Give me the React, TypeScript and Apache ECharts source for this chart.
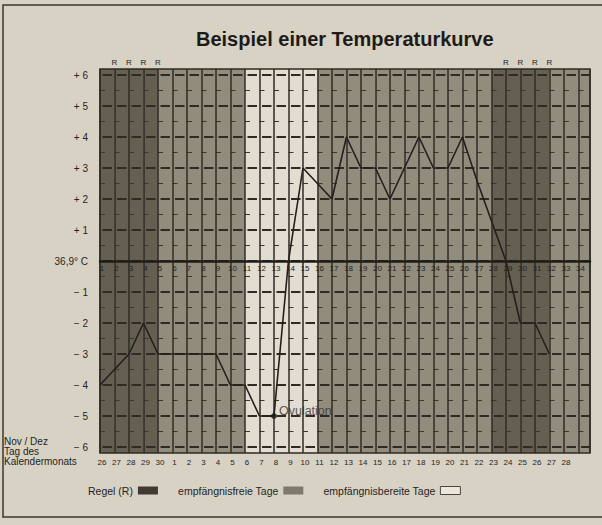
import React, { useEffect, useRef } from "react";
import * as echarts from "echarts";

// Zyklustage (cycle days) and temperature offsets (units of 0.05 °C relative to 36.9 °C)
const cycleDays = [
  1, 2, 3, 4, 5, 6, 7, 8, 9, 10, 11, 12, 13, 14, 15, 16, 17, 18, 19, 20, 21, 22, 23, 24,
  25, 26, 27, 28, 29, 30, 31, 32, 33, 34,
];
const temperatures: (number | null)[] = [
  -4, -3.5, -3, -2, -3, -3, -3, -3, -3, -4, -4, -5, -5, 0, 3, 2.5, 2, 4, 3, 3, 2, 3, 4, 3,
  3, 4, 2.6, 1.3, 0, -2, -2, -3, null, null,
];
const calendarDays = [
  "26", "27", "28", "29", "30", "1", "2", "3", "4", "5", "6", "7", "8", "9", "10", "11",
  "12", "13", "14", "15", "16", "17", "18", "19", "20", "21", "22", "23", "24", "25", "26",
  "27", "28",
];
const ovulationDay = 13;
const regelColumns = [1, 2, 3, 4, 28, 29, 30, 31];
const infertileColumns = [5, 6, 7, 8, 9, 10, 16, 17, 18, 19, 20, 21, 22, 23, 24, 25, 26, 27, 32, 33, 34];
const fertileColumns = [11, 12, 13, 14, 15];
const seriesNames = ["Regel (R)", "empfängnisfreie Tage", "empfängnisbereite Tage"];
const zeroLabel = "36,9° C";
const calendarCaption = ["Nov / Dez", "Tag des", "Kalendermonats"];
const title = "Beispiel einer Temperaturkurve";

export default function App() {
  const ref = useRef<HTMLDivElement>(null);
  useEffect(() => {
    const chart = echarts.init(ref.current!, null, { renderer: "svg" });
    const font = "Liberation Sans, Arial, sans-serif";
    const ink = "#25231e";
    const lineInk = "#2e2b25";
    const colors = ["#655f52", "#928c7d", "#e2ddd0"];
    const xMin = 1;
    const xMax = 34.8;
    const rLabelPositions = regelColumns.map((c) => c + 1);

    const band = (name: string, cols: number[], color: string) => ({
      type: "custom",
      name,
      xAxisIndex: 0,
      yAxisIndex: 0,
      z: -1,
      silent: true,
      itemStyle: { color },
      data: cols.map((c) => [c, 0]),
      encode: { x: 0, y: 1 },
      renderItem: (params: any, api: any) => {
        const c = api.value(0);
        const a = api.coord([c, 0]);
        const b = api.coord([c + 1, 0]);
        const cs = params.coordSys;
        const right = Math.min(b[0], cs.x + cs.width);
        return {
          type: "rect",
          shape: { x: a[0], y: cs.y, width: right - a[0], height: cs.height },
          style: { fill: color },
        };
      },
    });

    const lineData = cycleDays
      .map((d, i) => [d, temperatures[i]])
      .filter((p) => p[1] !== null);
    const ovIdx = cycleDays.indexOf(ovulationDay);

    chart.setOption({
      animation: false,
      backgroundColor: "transparent",
      textStyle: { fontFamily: font },
      title: {
        text: title,
        left: 191,
        top: 24,
        textStyle: { fontSize: 20, fontWeight: "bold", color: "#1d1b18", fontFamily: font },
      },
      legend: {
        left: 83,
        top: 480,
        align: "right",
        itemWidth: 20,
        itemHeight: 8,
        itemGap: 20,
        selectedMode: false,
        textStyle: { fontSize: 10.5, color: ink, fontFamily: font },
        data: [
          { name: seriesNames[0], icon: "rect", itemStyle: { color: "#3f3b33" } },
          { name: seriesNames[1], icon: "rect", itemStyle: { color: "#7f796b" } },
          {
            name: seriesNames[2],
            icon: "rect",
            itemStyle: { color: "#ebe7dc", borderColor: "#4a463d", borderWidth: 1 },
          },
        ],
      },
      grid: [
        {
          left: 100,
          right: 12,
          top: 69,
          bottom: 72,
          show: true,
          backgroundColor: "transparent",
          borderColor: lineInk,
          borderWidth: 1.5,
        },
        { left: 100, right: 12, top: 75, bottom: 78 },
        { left: 100, right: 12, top: 75, bottom: 264 },
      ],
      xAxis: [
        {
          type: "value",
          gridIndex: 0,
          min: xMin,
          max: xMax,
          interval: 1,
          position: "bottom",
          axisLine: { show: false, onZero: false },
          axisTick: { show: false },
          splitLine: { show: true, lineStyle: { color: lineInk, width: 1.5 } },
          axisLabel: {
            fontSize: 8,
            color: ink,
            margin: 5,
            padding: [0, 0, 0, 4],
            formatter: (v: number) => calendarDays[v - 1] ?? "",
          },
        },
        {
          type: "value",
          gridIndex: 1,
          min: xMin,
          max: xMax,
          interval: 1,
          show: false,
        },
        {
          type: "value",
          gridIndex: 0,
          min: xMin,
          max: xMax,
          interval: 1,
          position: "top",
          axisLine: { show: false },
          axisTick: { show: false },
          splitLine: { show: false },
          axisLabel: {
            fontSize: 8,
            color: ink,
            margin: 3,
            formatter: (v: number) => (rLabelPositions.includes(v) ? "R" : ""),
          },
        },
        {
          type: "value",
          gridIndex: 2,
          min: xMin,
          max: xMax,
          interval: 1,
          position: "bottom",
          axisLine: { show: true, onZero: false, lineStyle: { color: "#1e1c18", width: 2.5 } },
          axisTick: { show: false },
          splitLine: { show: false },
          axisLabel: {
            fontSize: 8,
            color: ink,
            margin: 3,
            padding: [0, 0, 0, 4],
            formatter: (v: number) => (cycleDays.includes(v) ? String(v) : ""),
          },
        },
      ],
      yAxis: [
        { type: "value", gridIndex: 0, min: -6.2, max: 6.2, show: false },
        {
          type: "value",
          gridIndex: 1,
          min: -6,
          max: 6,
          interval: 1,
          axisLine: { show: false },
          axisTick: { show: false },
          axisLabel: {
            fontSize: 10,
            color: ink,
            margin: 12,
            formatter: (v: number) =>
              v === 0 ? zeroLabel : v > 0 ? `+ ${v}` : `− ${Math.abs(v)}`,
          },
          splitLine: {
            show: true,
            lineStyle: { color: lineInk, width: 2, type: [9.5, 5], dashOffset: 12 },
          },
          minorTick: { show: false, splitNumber: 2 },
          minorSplitLine: {
            show: true,
            lineStyle: { color: "#3a372f", width: 1.1, type: [5, 9.5], dashOffset: 0 },
          },
        },
        { type: "value", gridIndex: 2, min: 0, max: 6, show: false },
      ],
      series: [
        band(seriesNames[0], regelColumns, colors[0]),
        band(seriesNames[1], infertileColumns, colors[1]),
        band(seriesNames[2], fertileColumns, colors[2]),
        {
          type: "line",
          name: "Temperatur",
          xAxisIndex: 1,
          yAxisIndex: 1,
          data: lineData,
          symbol: "none",
          z: 5,
          lineStyle: { color: "#22201c", width: 1.6 },
        },
        {
          type: "scatter",
          name: "Ovulation",
          xAxisIndex: 1,
          yAxisIndex: 1,
          data: [[ovulationDay, temperatures[ovIdx]]],
          symbol: "circle",
          symbolSize: 6,
          z: 6,
          itemStyle: { color: "#1a1815" },
          label: {
            show: true,
            position: "right",
            distance: 2,
            offset: [0, -5],
            formatter: "Ovulation",
            fontSize: 12.5,
            color: "#34312a",
            fontFamily: font,
          },
        },
      ],
      graphic: [
        {
          type: "rect",
          shape: { x: 3, y: 5, width: 612, height: 512 },
          style: { fill: "none", stroke: "#3a372f", lineWidth: 1.5 },
          silent: true,
        },
        ...calendarCaption.map((t, i) => ({
          type: "text",
          left: 4,
          top: 436 + i * 10,
          style: { text: t, fontSize: 10, fill: ink, fontFamily: font },
          silent: true,
        })),
      ],
    });
    return () => chart.dispose();
  }, []);
  return (
    <div
      style={{
        position: "fixed",
        left: 0,
        top: 0,
        width: 602,
        height: 525,
        background: "#d8d2c4",
      }}
    >
      <div ref={ref} style={{ width: 602, height: 525 }} />
    </div>
  );
}
